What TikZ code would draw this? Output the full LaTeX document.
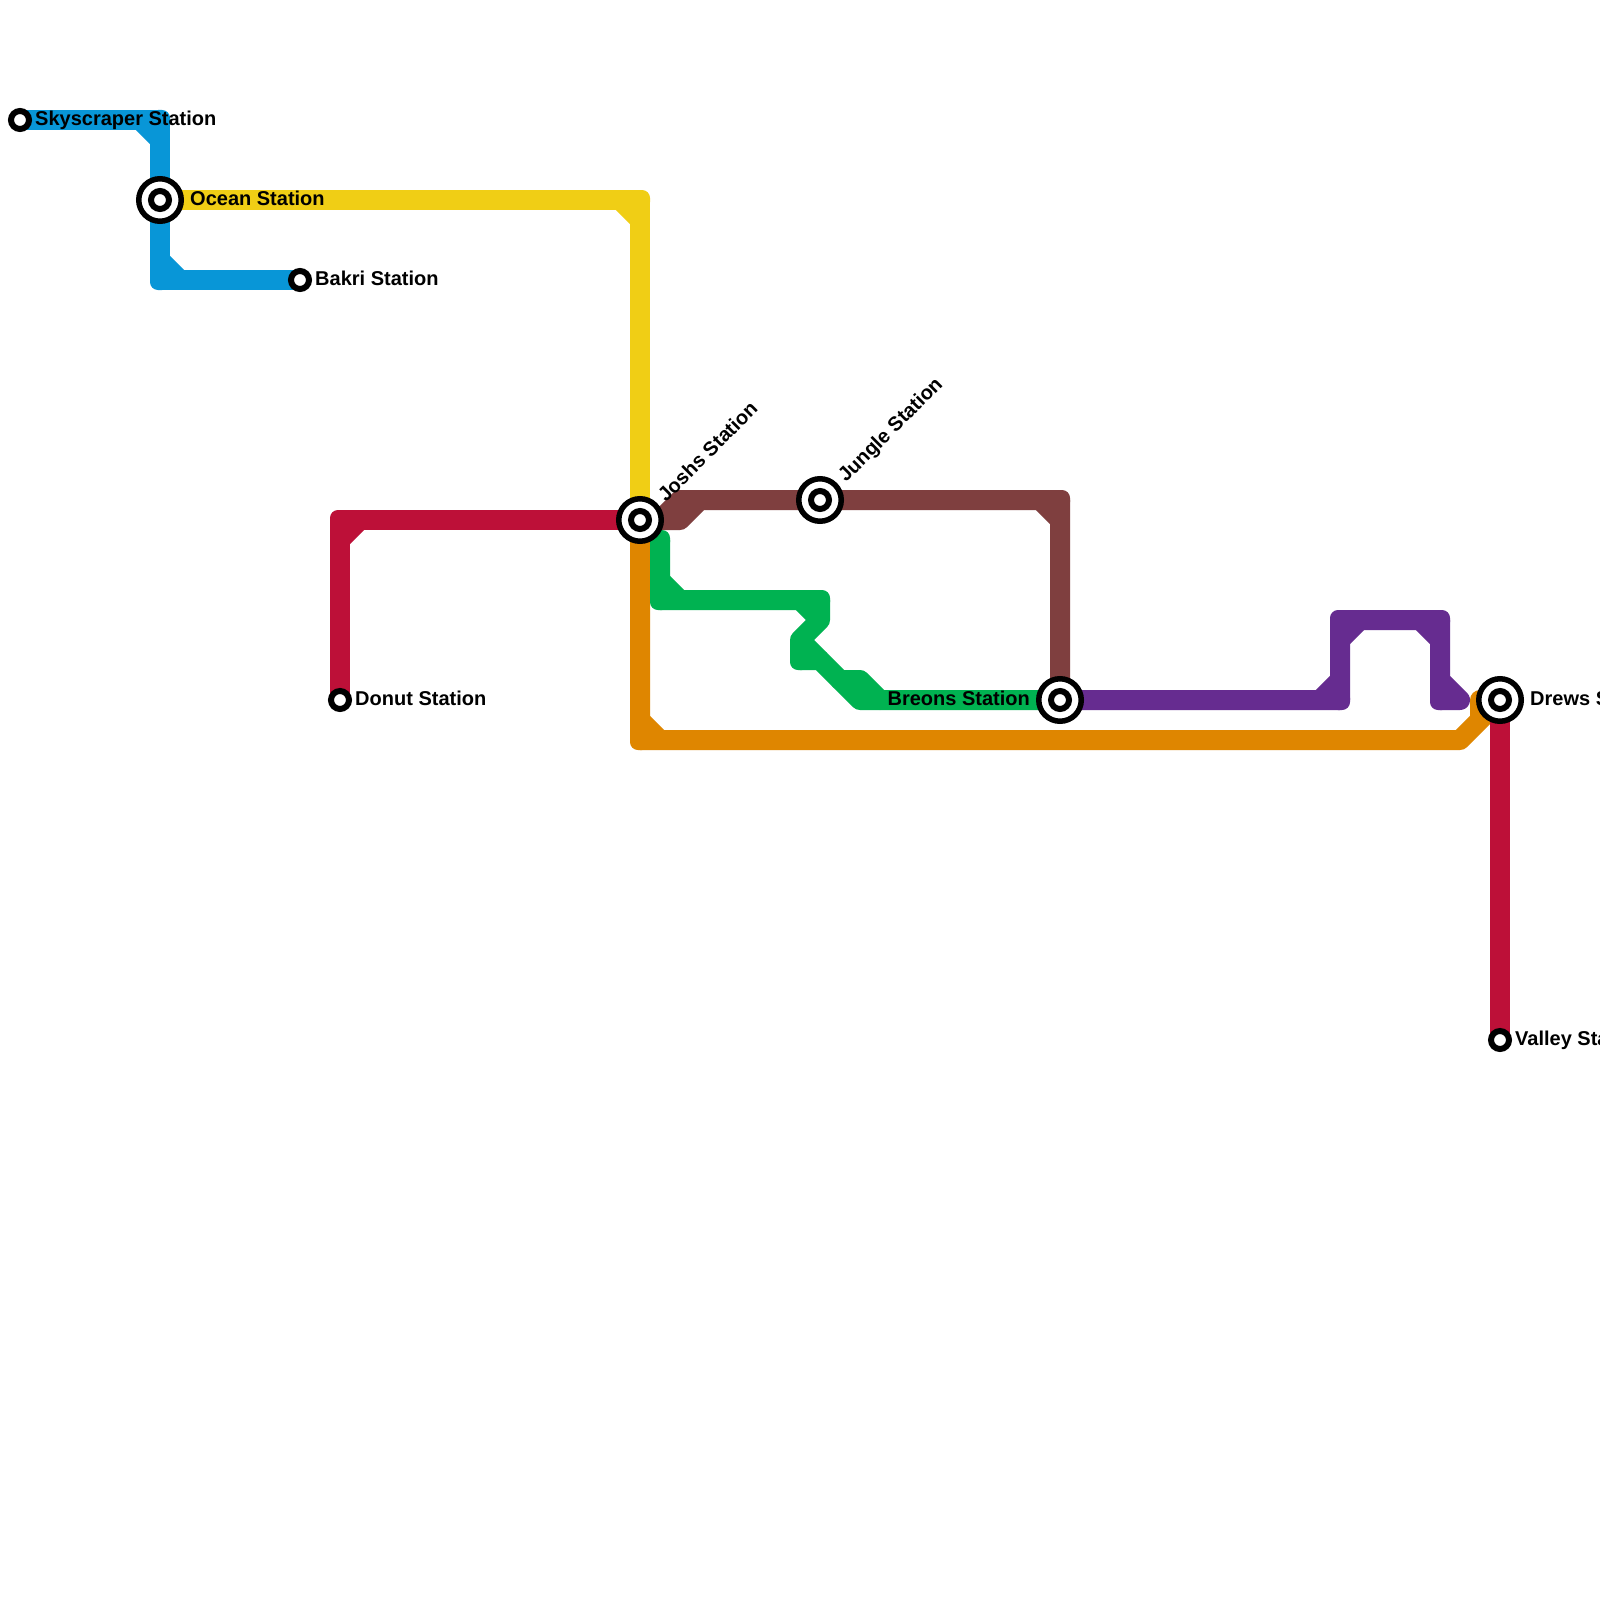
\documentclass[tikz,border=0pt]{standalone}
\usepackage{fontspec}
\setmainfont{Liberation Sans}
\definecolor{lblue}{HTML}{0896D7}
\definecolor{lyellow}{HTML}{F0CE15}
\definecolor{lred}{HTML}{BD1038}
\definecolor{lorange}{HTML}{DF8600}
\definecolor{lbrown}{HTML}{7F3F3F}
\definecolor{lgreen}{HTML}{00B251}
\definecolor{lpurple}{HTML}{662C90}
\tikzset{
  metro/.style={line width=20pt,line join=round,line cap=butt},
  metroend/.style={line width=20pt,line join=round,line cap=round},
  lab/.style={inner sep=0pt,font=\bfseries\fontsize{20}{24}\selectfont,text=black},
  stationdot/.style={circle,draw=black,fill=white,line width=6pt,inner sep=0pt,minimum size=18pt,outer sep=0pt},
  stationhub/.style={circle,draw=black,fill=white,line width=5.5pt,inner sep=0pt,minimum size=42.5pt,outer sep=0pt},
  bendcorner/.style={rounded corners=8pt},
}
\newcommand{\cornerfill}[2]{\foreach \cx/\cy in {#2}{\fill[bendcorner,#1] (\cx-10,\cy-10) rectangle (\cx+10,\cy+10);}}
\begin{document}
\begin{tikzpicture}[x=1pt,y=-1pt]
\useasboundingbox (0,0) rectangle (1600,1600);
\clip (0,0) rectangle (1600,1600);
\fill[white] (0,0) rectangle (1600,1600);
\coordinate (sky) at (20,120);
\coordinate (oce) at (160,200);
\coordinate (bak) at (300,280);
\coordinate (don) at (340,700);
\coordinate (jos) at (640,520);
\coordinate (jun) at (820,500);
\coordinate (bre) at (1060,700);
\coordinate (dre) at (1500,700);
\coordinate (val) at (1500,1040);
% blue
\draw[metro,lblue] (sky) -- (160,120) -- (160,280) -- (bak);
\draw[metro,lblue] (140,120) -- (160,140);
\draw[metro,lblue] (160,260) -- (180,280);
\cornerfill{lblue}{160/120,160/280}
% yellow
\draw[metro,lyellow] (oce) -- (640,200) -- (jos);
\draw[metro,lyellow] (620,200) -- (640,220);
\cornerfill{lyellow}{640/200}
% red
\draw[metro,lred] (don) -- (340,520) -- (jos);
\draw[metro,lred] (340,540) -- (360,520);
\cornerfill{lred}{340/520}
% orange
\draw[metro,lorange] (jos) -- (640,740) -- (1460,740) -- (dre) -- (1480,700) -- (1480,720);
\draw[metro,lorange] (640,720) -- (660,740);
\cornerfill{lorange}{640/740}
% red 2
\draw[metro,lred] (dre) -- (val);
% brown
\draw[metro,lbrown] (jos) -- (680,520) -- (700,500) -- (1060,500) -- (bre);
\draw[metro,lbrown] (660,520) -- (680,500) -- (700,500);
\draw[metro,lbrown] (1040,500) -- (1060,520);
\cornerfill{lbrown}{1060/500}
% green
\draw[metro,lgreen] (660,540) -- (660,600) -- (820,600) -- (820,620) -- (800,640) -- (800,660) -- (820,660) -- (860,700) -- (bre);
\draw[metro,lgreen] (660,580) -- (680,600);
\draw[metro,lgreen] (800,600) -- (820,620);
\draw[metro,lgreen] (800,640) -- (820,660);
\draw[metroend,lgreen] (840,680) -- (860,680) -- (880,700);
\cornerfill{lgreen}{660/540,660/600,820/600,800/660}
% purple
\draw[metroend,lpurple] (bre) -- (1340,700) -- (1340,620) -- (1440,620) -- (1440,700) -- (1460,700) -- (1440,680);
\draw[metro,lpurple] (1320,700) -- (1340,680);
\draw[metro,lpurple] (1340,640) -- (1360,620);
\draw[metro,lpurple] (1420,620) -- (1440,640);
\cornerfill{lpurple}{1340/700,1340/620,1440/620,1440/700}
% stations
\node[stationdot] (skyS) at (sky) {};
\node[stationhub] (oceS) at (oce) {}; \node[stationdot] (oceI) at (oce) {};
\node[stationdot] (bakS) at (bak) {};
\node[stationdot] (donS) at (don) {};
\node[stationhub] (josS) at (jos) {}; \node[stationdot] (josI) at (jos) {};
\node[stationhub] (junS) at (jun) {}; \node[stationdot] (junI) at (jun) {};
\node[stationhub] (breS) at (bre) {}; \node[stationdot] (breI) at (bre) {};
\node[stationhub] (dreS) at (dre) {}; \node[stationdot] (dreI) at (dre) {};
\node[stationdot] (valS) at (val) {};
% labels
\node[lab,anchor=base west] (skyL) at (35,125) {Skyscraper Station};
\node[lab,anchor=base west] (oceL) at (190,205) {Ocean Station};
\node[lab,anchor=base west] (bakL) at (315,285) {Bakri Station};
\node[lab,anchor=base west] (donL) at (355,705) {Donut Station};
\node[lab,anchor=base east] (breL) at (1030,705) {Breons Station};
\node[lab,anchor=base west] (dreL) at (1530,705) {Drews Station};
\node[lab,anchor=base west] (valL) at (1515,1045) {Valley Station};
\node[lab,anchor=base west,rotate=45] (josL) at (666,503) {Joshs Station};
\node[lab,anchor=base west,rotate=45] (junL) at (846,483) {Jungle Station};
\end{tikzpicture}
\end{document}
